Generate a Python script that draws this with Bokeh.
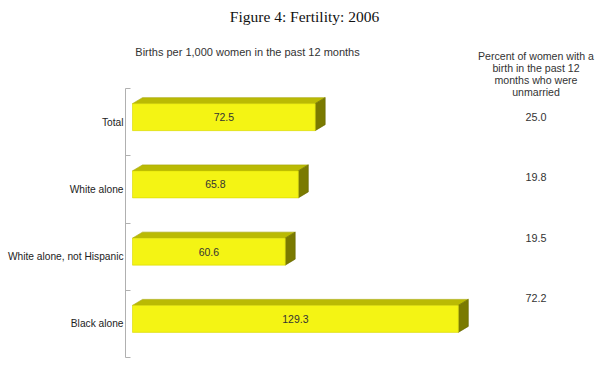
from bokeh.plotting import figure
from bokeh.models import Range1d, LinearAxis, FixedTicker
from bokeh.core.properties import value
from bokeh.embed import file_html
from bokeh.resources import INLINE

# ---- data ----
categories = ["Total", "White alone", "White alone, not Hispanic", "Black alone"]
births = [72.5, 65.8, 60.6, 129.3]
unmarried_pct = [25.0, 19.8, 19.5, 72.2]
title_text = "Figure 4: Fertility: 2006"
left_header = "Births per 1,000 women in the past 12 months"
right_header = ["Percent of women with a", "birth in the past 12", "months who were", "unmarried"]

# ---- layout constants ----
PX_X = 2.52      # pixels per birth unit
PX_Y = 67.25     # pixels per category slot
W, H = 600, 361
BL, BB = 125, 4
frame_w = W - BL
frame_h = H - BB
x0 = -7 / PX_X
x_range = Range1d(x0, x0 + frame_w / PX_X)
y_range = Range1d(0, frame_h / PX_Y)

p = figure(width=W, height=H, output_backend="svg", toolbar_location=None,
           x_range=x_range, y_range=y_range, min_border_left=BL, min_border_right=0,
           min_border_top=0, min_border_bottom=BB, outline_line_color=None,
           x_axis_type=None, y_axis_type=None)
p.grid.visible = False
p.background_fill_color = "white"
p.border_fill_color = "white"

n = len(categories)
centers = [n - 0.5 - i for i in range(n)]

yaxis = LinearAxis(bounds=(0, n))
yaxis.ticker = FixedTicker(ticks=centers, minor_ticks=list(range(n + 1)))
yaxis.major_label_overrides = {c: cat for c, cat in zip(centers, categories)}
yaxis.axis_line_color = "#b0b0b0"
yaxis.major_tick_line_color = None
yaxis.major_tick_out = 0
yaxis.major_tick_in = 0
yaxis.minor_tick_line_color = "#b0b0b0"
yaxis.minor_tick_in = 5
yaxis.minor_tick_out = 0
yaxis.major_label_standoff = 2
yaxis.major_label_text_font = "Liberation Sans"
yaxis.major_label_text_font_size = "10.2px"
yaxis.major_label_text_color = "#222222"
p.add_layout(yaxis, "left")

# ---- 3D bars ----
off = 5 / PX_Y
h = 27 / PX_Y
dx = 10 / PX_X
dy = 6 / PX_Y
front_y = [c + off for c in centers]
tops = [y + h / 2 for y in front_y]
bots = [y - h / 2 for y in front_y]

top_xs = [[0, v, v + dx, dx] for v in births]
top_ys = [[t, t, t + dy, t + dy] for t in tops]
side_xs = [[v, v + dx, v + dx, v] for v in births]
side_ys = [[t, t + dy, b + dy, b] for t, b in zip(tops, bots)]

p.patches(top_xs, top_ys, fill_color="#BABA04", line_color="#A5A500", line_width=0.6)
p.patches(side_xs, side_ys, fill_color="#7A7A00", line_color="#686800", line_width=0.6)
p.hbar(y=front_y, left=0, right=births, height=h, fill_color="#F4F414",
       line_color="#D8D800", line_width=0.6)

p.text(x=[v / 2 for v in births], y=front_y, text=[f"{v:.1f}" for v in births],
       text_align="center", text_baseline="middle", text_font=value("Liberation Sans"),
       text_font_size="10.5px", text_color="#333333")

# ---- right column ----
RX = (535.5 - 132) / PX_X
r_top = (357 - 116) / PX_Y
r_step = 60.6 / PX_Y
p.text(x=[RX] * n, y=[r_top - i * r_step for i in range(n)],
       text=[f"{v:.1f}" for v in unmarried_pct], text_align="center", text_baseline="middle",
       text_font=value("Liberation Sans"), text_font_size="10.8px", text_color="#333333")

hdr_y0 = (357 - 55) / PX_Y
hdr_step = 12.3 / PX_Y
p.text(x=[RX] * len(right_header), y=[hdr_y0 - i * hdr_step for i in range(len(right_header))],
       text=right_header, text_align="center", text_baseline="middle",
       text_font=value("Liberation Sans"), text_font_size="10.6px", text_color="#333333")

# ---- headers / title ----
p.text(x=[(247 - 132) / PX_X], y=[(357 - 51) / PX_Y], text=[left_header],
       text_align="center", text_baseline="middle", text_font=value("Liberation Sans"),
       text_font_size="11px", text_color="#333333")
p.text(x=[(304 - 132) / PX_X], y=[(357 - 16) / PX_Y], text=[title_text],
       text_align="center", text_baseline="middle", text_font=value("Liberation Serif"),
       text_font_size="15.5px", text_color="#111111")

open("out.html", "w").write(file_html(p, INLINE))
